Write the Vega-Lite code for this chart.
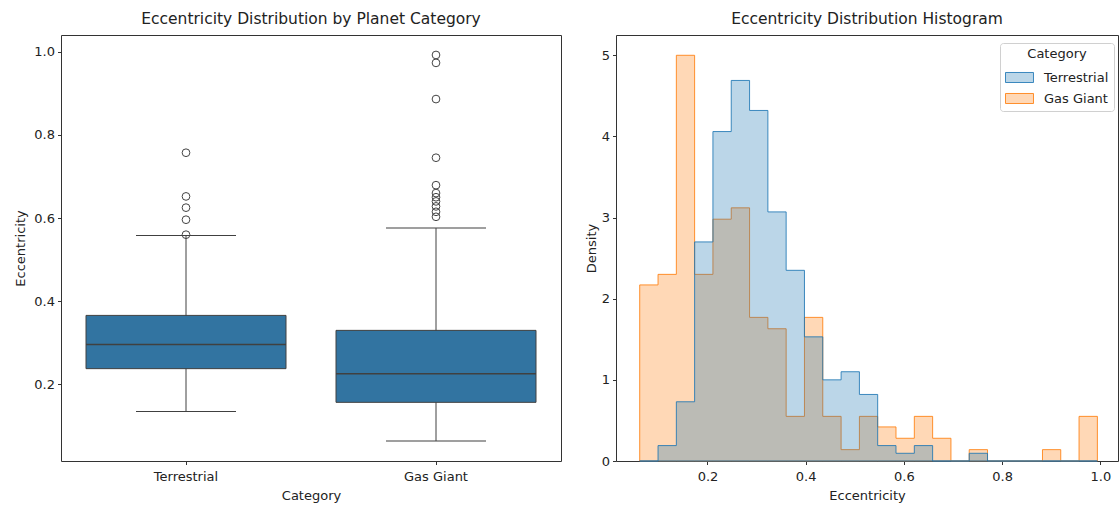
{
  "$schema": "https://vega.github.io/schema/vega-lite/v6.json",
  "background": "white",
  "padding": {"left": 14, "top": 11, "right": 0, "bottom": 5},
  "bounds": "flush",
  "spacing": 55,
  "datasets": {
    "boxes": [
      {"Category": "Terrestrial", "lower": 0.135, "q1": 0.238, "median": 0.296, "q3": 0.366, "upper": 0.558},
      {"Category": "Gas Giant", "lower": 0.064, "q1": 0.157, "median": 0.226, "q3": 0.330, "upper": 0.576}
    ],
    "outliers": [
      {"Category": "Terrestrial", "e": 0.560},
      {"Category": "Terrestrial", "e": 0.596},
      {"Category": "Terrestrial", "e": 0.625},
      {"Category": "Terrestrial", "e": 0.652},
      {"Category": "Terrestrial", "e": 0.757},
      {"Category": "Gas Giant", "e": 0.603},
      {"Category": "Gas Giant", "e": 0.615},
      {"Category": "Gas Giant", "e": 0.628},
      {"Category": "Gas Giant", "e": 0.640},
      {"Category": "Gas Giant", "e": 0.650},
      {"Category": "Gas Giant", "e": 0.660},
      {"Category": "Gas Giant", "e": 0.679},
      {"Category": "Gas Giant", "e": 0.745},
      {"Category": "Gas Giant", "e": 0.886},
      {"Category": "Gas Giant", "e": 0.973},
      {"Category": "Gas Giant", "e": 0.992}
    ],
    "hist": [
      {"Category": "Gas Giant", "x": 0.062, "density": 2.17},
      {"Category": "Gas Giant", "x": 0.0993, "density": 2.30},
      {"Category": "Gas Giant", "x": 0.1366, "density": 5.00},
      {"Category": "Gas Giant", "x": 0.1738, "density": 2.30},
      {"Category": "Gas Giant", "x": 0.2111, "density": 2.98},
      {"Category": "Gas Giant", "x": 0.2484, "density": 3.12},
      {"Category": "Gas Giant", "x": 0.2857, "density": 1.77},
      {"Category": "Gas Giant", "x": 0.3230, "density": 1.63},
      {"Category": "Gas Giant", "x": 0.3602, "density": 0.55},
      {"Category": "Gas Giant", "x": 0.3975, "density": 1.77},
      {"Category": "Gas Giant", "x": 0.4348, "density": 0.55},
      {"Category": "Gas Giant", "x": 0.4721, "density": 0.14},
      {"Category": "Gas Giant", "x": 0.5094, "density": 0.55},
      {"Category": "Gas Giant", "x": 0.5466, "density": 0.42},
      {"Category": "Gas Giant", "x": 0.5839, "density": 0.28},
      {"Category": "Gas Giant", "x": 0.6212, "density": 0.55},
      {"Category": "Gas Giant", "x": 0.6585, "density": 0.28},
      {"Category": "Gas Giant", "x": 0.6958, "density": 0},
      {"Category": "Gas Giant", "x": 0.7330, "density": 0.14},
      {"Category": "Gas Giant", "x": 0.7703, "density": 0},
      {"Category": "Gas Giant", "x": 0.8076, "density": 0},
      {"Category": "Gas Giant", "x": 0.8449, "density": 0},
      {"Category": "Gas Giant", "x": 0.8822, "density": 0.14},
      {"Category": "Gas Giant", "x": 0.9194, "density": 0},
      {"Category": "Gas Giant", "x": 0.9567, "density": 0.55},
      {"Category": "Gas Giant", "x": 0.994, "density": 0},
      {"Category": "Terrestrial", "x": 0.062, "density": 0},
      {"Category": "Terrestrial", "x": 0.0993, "density": 0.19},
      {"Category": "Terrestrial", "x": 0.1366, "density": 0.73},
      {"Category": "Terrestrial", "x": 0.1738, "density": 2.70},
      {"Category": "Terrestrial", "x": 0.2111, "density": 4.06},
      {"Category": "Terrestrial", "x": 0.2484, "density": 4.69},
      {"Category": "Terrestrial", "x": 0.2857, "density": 4.32},
      {"Category": "Terrestrial", "x": 0.3230, "density": 3.07},
      {"Category": "Terrestrial", "x": 0.3602, "density": 2.35},
      {"Category": "Terrestrial", "x": 0.3975, "density": 1.53},
      {"Category": "Terrestrial", "x": 0.4348, "density": 1.00},
      {"Category": "Terrestrial", "x": 0.4721, "density": 1.10},
      {"Category": "Terrestrial", "x": 0.5094, "density": 0.82},
      {"Category": "Terrestrial", "x": 0.5466, "density": 0.19},
      {"Category": "Terrestrial", "x": 0.5839, "density": 0.095},
      {"Category": "Terrestrial", "x": 0.6212, "density": 0.19},
      {"Category": "Terrestrial", "x": 0.6585, "density": 0},
      {"Category": "Terrestrial", "x": 0.6958, "density": 0},
      {"Category": "Terrestrial", "x": 0.7330, "density": 0.095},
      {"Category": "Terrestrial", "x": 0.7703, "density": 0},
      {"Category": "Terrestrial", "x": 0.8076, "density": 0},
      {"Category": "Terrestrial", "x": 0.8449, "density": 0},
      {"Category": "Terrestrial", "x": 0.8822, "density": 0},
      {"Category": "Terrestrial", "x": 0.9194, "density": 0},
      {"Category": "Terrestrial", "x": 0.9567, "density": 0},
      {"Category": "Terrestrial", "x": 0.994, "density": 0}
    ]
  },
  "hconcat": [
    {
      "title": "Eccentricity Distribution by Planet Category",
      "width": 500,
      "height": 426,
      "encoding": {
        "x": {"field": "Category", "type": "nominal", "sort": ["Terrestrial", "Gas Giant"], "scale": {"paddingInner": 0, "paddingOuter": 0}, "axis": {"labelAngle": 0, "title": "Category", "labelPadding": 6, "titlePadding": 6}}
      },
      "layer": [
        {
          "data": {"name": "boxes"},
          "mark": {"type": "rule", "color": "#404040", "strokeWidth": 1},
          "encoding": {
            "y": {"field": "lower", "type": "quantitative", "scale": {"domain": [0.016, 1.04], "nice": false, "zero": false}, "axis": {"values": [0.2, 0.4, 0.6, 0.8, 1.0], "format": ".1f", "title": "Eccentricity", "titlePadding": 6}},
            "y2": {"field": "upper"}
          }
        },
        {
          "data": {"name": "boxes"},
          "mark": {"type": "bar", "width": {"band": 0.8}, "fill": "#3274a1", "stroke": "#404040", "strokeWidth": 1},
          "encoding": {
            "y": {"field": "q1", "type": "quantitative"},
            "y2": {"field": "q3"}
          }
        },
        {
          "data": {"name": "boxes"},
          "mark": {"type": "tick", "size": 200, "thickness": 1.5, "color": "#404040", "opacity": 1},
          "encoding": {"y": {"field": "median", "type": "quantitative"}}
        },
        {
          "data": {"name": "boxes"},
          "mark": {"type": "tick", "size": 100, "thickness": 1, "color": "#404040", "opacity": 1},
          "encoding": {"y": {"field": "lower", "type": "quantitative"}}
        },
        {
          "data": {"name": "boxes"},
          "mark": {"type": "tick", "size": 100, "thickness": 1, "color": "#404040", "opacity": 1},
          "encoding": {"y": {"field": "upper", "type": "quantitative"}}
        },
        {
          "data": {"name": "outliers"},
          "mark": {"type": "point", "shape": "circle", "filled": false, "size": 60, "color": "#444444", "strokeWidth": 1, "opacity": 1},
          "encoding": {"y": {"field": "e", "type": "quantitative"}}
        }
      ]
    },
    {
      "title": "Eccentricity Distribution Histogram",
      "width": 502,
      "height": 426,
      "data": {"name": "hist"},
      "mark": {"type": "area", "interpolate": "step-after", "fillOpacity": 0.3, "strokeOpacity": 0.85, "strokeWidth": 1},
      "encoding": {
        "x": {"field": "x", "type": "quantitative", "scale": {"domain": [0.0137, 1.036], "nice": false, "zero": false}, "axis": {"values": [0.2, 0.4, 0.6, 0.8, 1.0], "format": ".1f", "title": "Eccentricity", "labelPadding": 6, "titlePadding": 6}},
        "y": {"field": "density", "type": "quantitative", "stack": null, "scale": {"domain": [0, 5.25], "nice": false}, "axis": {"values": [0, 1, 2, 3, 4, 5], "title": "Density", "titlePadding": 3}},
        "fill": {"field": "Category", "type": "nominal", "scale": {"domain": ["Terrestrial", "Gas Giant"], "range": ["#1f77b4", "#ff7f0e"]}, "legend": {"title": "Category", "orient": "none", "legendX": 384, "legendY": 8, "encode": {"symbols": {"update": {"fillOpacity": {"value": 0.3}, "strokeOpacity": {"value": 0.85}}}}}},
        "stroke": {"field": "Category", "type": "nominal", "scale": {"domain": ["Terrestrial", "Gas Giant"], "range": ["#1f77b4", "#ff7f0e"]}, "legend": {"title": "Category", "orient": "none", "legendX": 384, "legendY": 8, "encode": {"symbols": {"update": {"fillOpacity": {"value": 0.3}, "strokeOpacity": {"value": 0.85}}}}}}
      }
    }
  ],
  "resolve": {
    "scale": {"x": "independent", "y": "independent", "fill": "independent", "stroke": "independent"},
    "legend": {"fill": "independent", "stroke": "independent"}
  },
  "config": {
    "font": "DejaVu Sans",
    "view": {"stroke": "#333333", "strokeWidth": 1},
    "axis": {"domain": false, "grid": false, "tickColor": "#333333", "tickSize": 3.5, "labelColor": "#222222", "titleColor": "#222222", "labelFontSize": 13, "titleFontSize": 13, "titleFontWeight": "normal", "labelPadding": 3, "titlePadding": 5},
    "title": {"fontSize": 15.5, "fontWeight": "normal", "color": "#222222", "offset": 8},
    "legend": {"titleAnchor": "middle", "titleFontWeight": "normal", "titleFontSize": 13, "titleColor": "#222222", "labelColor": "#222222", "labelFontSize": 13, "padding": 5, "strokeColor": "#d0d0d0", "fillColor": "white", "cornerRadius": 3, "symbolType": "M-1,-0.556H2.111V0.556H-1Z", "symbolSize": 324, "symbolStrokeWidth": 1, "labelOffset": 20, "rowPadding": 4, "titlePadding": 7}
  }
}
